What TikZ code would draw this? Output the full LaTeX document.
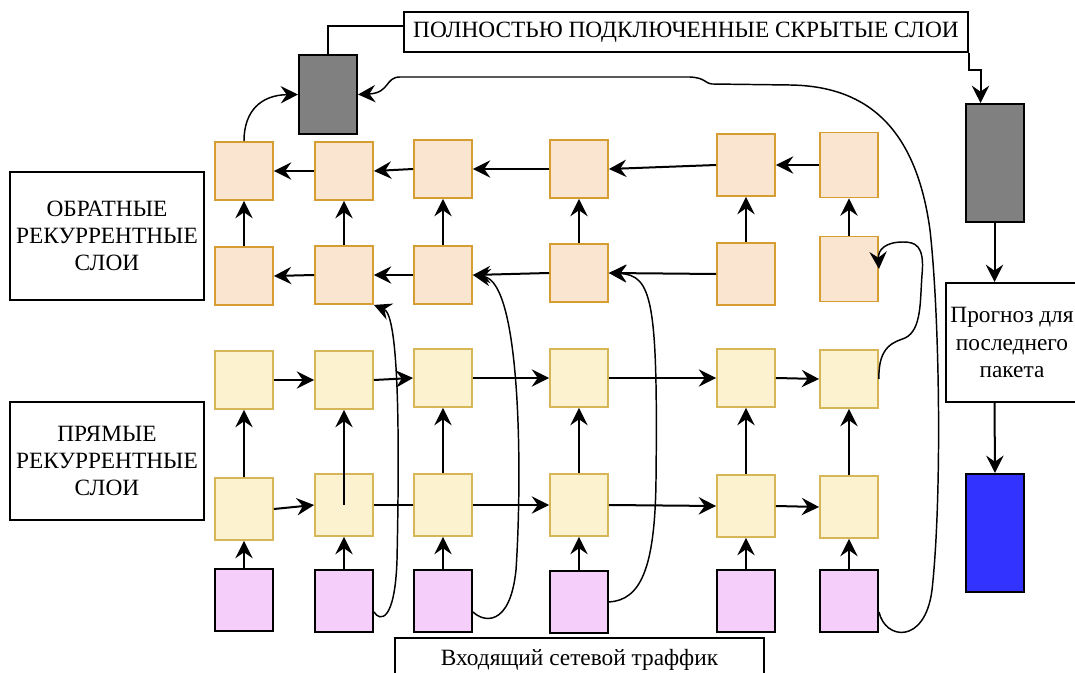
\documentclass[tikz,border=0pt]{standalone}
\usepackage{fontspec}
\setmainfont{Liberation Serif}
\usepackage{xcolor}
\usetikzlibrary{arrows.meta, positioning, calc}
\definecolor{cBwdFill}{RGB}{250,230,208}
\definecolor{cBwdLine}{RGB}{214,158,50}
\definecolor{cFwdFill}{RGB}{252,242,208}
\definecolor{cFwdLine}{RGB}{214,182,86}
\definecolor{cPink}{RGB}{246,206,250}
\definecolor{cGray}{RGB}{128,128,128}
\definecolor{cBlue}{RGB}{51,51,255}
\tikzset{
	bwd/.style  ={rectangle, draw=cBwdLine, fill=cBwdFill, line width=1.4pt, minimum width=43.5pt, minimum height=43.5pt, inner sep=0pt},
	fwd/.style  ={rectangle, draw=cFwdLine, fill=cFwdFill, line width=1.4pt, minimum width=43.5pt, minimum height=43.5pt, inner sep=0pt},
	inp/.style  ={rectangle, draw=black, fill=cPink, line width=1.5pt, minimum width=43.5pt, minimum height=46.5pt, inner sep=0pt},
	dense/.style={rectangle, draw=black, fill=cGray, line width=1.5pt, minimum width=43.5pt, inner sep=0pt},
	lbl/.style  ={rectangle, draw=black, fill=white, line width=1.5pt, align=center, inner sep=2pt},
	arr/.style  ={-{Stealth[length=13pt, width=13pt, inset=4.5pt]}, line width=1.5pt},
	arrc/.style ={-{Stealth[length=13pt, width=13pt, inset=4.5pt]}, line width=1.1pt},
	wire/.style ={line width=1.5pt},
}

\begin{document}
\begin{tikzpicture}[font=\fontsize{17.5}{20.5}\selectfont, x=0.75pt, y=-0.75pt]
	\useasboundingbox (0,0) rectangle (1075,673);
	% grid of cells: a,b backward, c,d forward, e input
	\foreach \i/\x/\ya/\yb/\yc/\yd/\ye/\h in {1/244/171/276/380/509/600/43.5, 2/344/171/275/380/505/601/43.5, 3/443/169/275/378/505/601/43.5, 4/579/169/273/378/505/602/43.5, 5/746/165/274/378/506/601/46.5, 6/849/165/269/379/507/601/48.75} {
		\node[bwd, minimum height=\h pt] (a\i) at (\x,\ya) {};
		\node[bwd, minimum height=\h pt] (b\i) at (\x,\yb) {};
		\node[fwd] (c\i) at (\x,\yc) {};
		\node[fwd, minimum height=46.5pt] (d\i) at (\x,\yd) {};
		\node[inp] (e\i) at (\x,\ye) {};
	}
	% labels
	\node[lbl, minimum width=145.5pt, minimum height=96pt] (lblBwd) at (107,236) {ОБРАТНЫЕ\\РЕКУРРЕНТНЫЕ\\СЛОИ};
	\node[lbl, minimum width=145.5pt, minimum height=88.5pt] (lblFwd) at (107,461) {ПРЯМЫЕ\\РЕКУРРЕНТНЫЕ\\СЛОИ};
	\node[lbl, minimum width=423pt, minimum height=30pt] (lblTop) at (686,32) {ПОЛНОСТЬЮ ПОДКЛЮЧЕННЫЕ СКРЫТЫЕ СЛОИ};
	\node[lbl, minimum width=276.75pt, minimum height=33pt] (lblIn) at (579.5,660) {Входящий сетевой траффик};
	\node[lbl, minimum width=99pt, minimum height=89.25pt] (pred) at (1012,342.5) {Прогноз для\\последнего\\пакета};
	% dense layers and output
	\node[dense, minimum height=59.25pt] (dense1) at (328,94.5) {};
	\node[dense, minimum height=88.5pt] (dense2) at (994.5,163) {};
	\node[dense, fill=cBlue, minimum height=88.5pt] (out) at (995,533) {};

	% backward rows
	\foreach \i/\j in {2/1,3/2,4/3,5/4,6/5} \draw[arr] (a\i.west) -- (a\j.east);
	\foreach \i/\j in {2/1,3/2,4/3,5/4} \draw[arr] (b\i.west) -- (b\j.east);
	\foreach \i in {1,...,6} \draw[arr] (b\i.north) -- (a\i.south);
	% forward rows
	\foreach \i/\j in {1/2,2/3,3/4,4/5,5/6} \draw[arr] (c\i.east) -- (c\j.west);
	\foreach \i/\j in {1/2,3/4,4/5,5/6} \draw[arr] (d\i.east) -- (d\j.west);
	\draw[wire] (d2.east) -- (d3.west);
	\foreach \i in {1,3,4,5,6} \draw[arr] (d\i.north) -- (c\i.south);
	\draw[arr] (d2.center) -- (c2.south);
	\foreach \i in {1,...,6} \draw[arr] (e\i.north) -- (d\i.south);

	% inputs into backward layer
	\draw[arrc] (e2.-20) .. controls (380,622) and (395,622) .. (397,560) .. controls (400,420) and (398,315) .. (b2.south east);
	\draw[arrc] (e3.-20) .. controls (483,622) and (510,628) .. (516,570) .. controls (522,480) and (522,282) .. (b3.east);
	\draw[arrc] (e4.east) .. controls (640,600) and (655,570) .. (656,480) .. controls (658,300) and (652,275) .. (b4.east);
	\draw[arrc] (c6.east) .. controls (878,345) and (895,342) .. (905,338) .. controls (922,330) and (920,300) .. (922,275) .. controls (925,245) and (915,242) .. (903,242) .. controls (885,242) and (878,250) .. (b6.east);
	\draw[arrc] (e6.-20) .. controls (885,640) and (925,645) .. (932,590) .. controls (942,500) and (940,320) .. (930,230) .. controls (915,120) and (860,86) .. (790,85) -- (712,84) .. controls (704,83) and (706,78) .. (690,77) -- (400,77) .. controls (385,77) and (390,93) .. (dense1.east);

	% dense layers
	\draw[arrc] (a1.north) .. controls (244,110) and (262,95) .. (dense1.west);
	\draw[wire] (dense1.north) |- ($(lblTop.west)+(0,-6)$);
	\draw[arr] (lblTop.south east) -- ++(0,17) -| ($(dense2.north)+(-14,0)$);
	\draw[arr] (dense2.south) -- (dense2.south |- pred.north);
	\draw[arr] (dense2.south |- pred.south) -- (out.north);
\end{tikzpicture}
\end{document}
